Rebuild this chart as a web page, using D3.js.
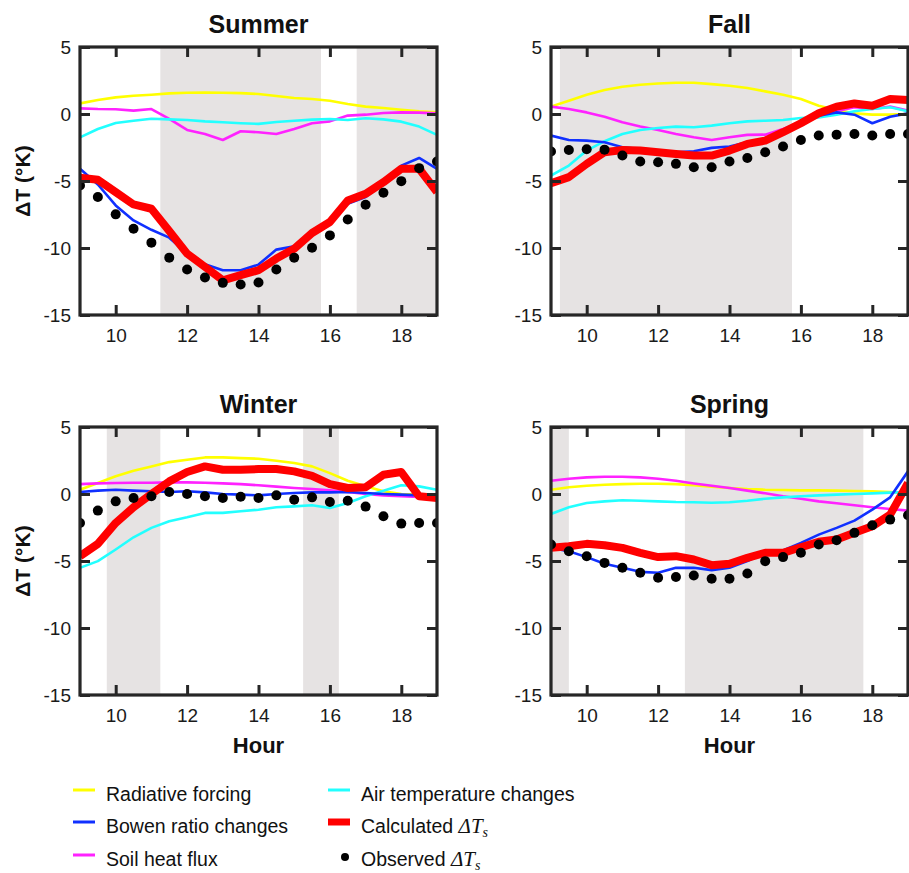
<!DOCTYPE html>
<html>
<head>
<meta charset="utf-8">
<script src="https://cdn.jsdelivr.net/npm/d3@7"></script>
<style>
  html, body { margin: 0; padding: 0; background: #fff; }
  svg { display: block; font-family: "Liberation Sans", Arial, sans-serif; }
</style>
</head>
<body>
<svg id="chart" width="909" height="873"></svg>
<script>
// Half-hourly time steps (hour of day)
const hours = [9, 9.5, 10, 10.5, 11, 11.5, 12, 12.5, 13, 13.5, 14, 14.5, 15, 15.5, 16, 16.5, 17, 17.5, 18, 18.5, 19];
const xTicks = [10, 12, 14, 16, 18];
const yTicks = [-15, -10, -5, 0, 5];

// Summer
const summerRad   = [0.79, 1.04, 1.24, 1.36, 1.44, 1.54, 1.59, 1.61, 1.59, 1.56, 1.49, 1.34, 1.19, 1.12, 0.99, 0.74, 0.55, 0.45, 0.32, 0.20, 0.12];
const summerBowen = [-4.09, -5.26, -6.82, -7.94, -8.64, -9.23, -10.42, -11.22, -11.66, -11.66, -11.24, -10.12, -9.88, -8.81, -7.94, -6.70, -6.20, -5.21, -3.85, -3.28, -4.09];
const summerSoil  = [0.42, 0.37, 0.35, 0.25, 0.37, -0.37, -1.19, -1.49, -1.94, -1.29, -1.36, -1.49, -1.12, -0.69, -0.55, -0.12, -0.05, 0.07, 0.12, 0.10, 0.05];
const summerAir   = [-1.74, -1.12, -0.67, -0.50, -0.35, -0.40, -0.45, -0.55, -0.62, -0.69, -0.74, -0.60, -0.50, -0.42, -0.37, -0.45, -0.32, -0.40, -0.57, -0.94, -1.56];
const summerCalc  = [-4.76, -4.91, -5.83, -6.75, -7.07, -8.73, -10.42, -11.41, -12.41, -12.03, -11.66, -10.79, -10.05, -8.88, -8.06, -6.45, -5.96, -5.09, -4.09, -4.09, -5.83];
const summerObs   = [-5.33, -6.20, -7.49, -8.56, -9.60, -10.72, -11.61, -12.20, -12.60, -12.73, -12.58, -11.61, -10.72, -9.98, -9.06, -7.87, -6.77, -5.88, -5.01, -4.04, -3.55];
const summerShade = [[11.25, 15.75], [16.75, 19]];

// Fall
const fallRad   = [0.55, 0.99, 1.44, 1.79, 2.03, 2.18, 2.28, 2.33, 2.33, 2.23, 2.11, 1.94, 1.69, 1.44, 1.12, 0.62, 0.30, 0.05, -0.05, -0.05, 0.00];
const fallBowen = [-1.61, -1.94, -1.99, -2.11, -2.48, -2.61, -2.73, -2.85, -2.78, -2.53, -2.43, -2.11, -1.86, -1.24, -0.62, -0.12, 0.12, -0.05, -0.69, -0.20, 0.05];
const fallSoil  = [0.55, 0.37, 0.12, -0.20, -0.62, -0.94, -1.19, -1.49, -1.74, -1.94, -1.74, -1.56, -1.54, -1.12, -0.62, -0.20, 0.20, 0.50, 0.37, 0.55, 0.25];
const fallAir   = [-4.59, -3.85, -2.73, -2.03, -1.49, -1.19, -1.04, -0.94, -0.99, -0.87, -0.69, -0.55, -0.50, -0.45, -0.30, -0.25, -0.05, 0.20, 0.37, 0.50, 0.20];
const fallCalc  = [-5.16, -4.71, -3.72, -2.85, -2.68, -2.73, -2.85, -2.98, -3.10, -3.10, -2.73, -2.23, -1.99, -1.36, -0.69, 0.05, 0.55, 0.79, 0.62, 1.12, 1.04];
const fallObs   = [-2.80, -2.68, -2.63, -2.66, -3.10, -3.55, -3.60, -3.72, -3.97, -3.97, -3.55, -3.28, -2.85, -2.43, -1.94, -1.61, -1.54, -1.49, -1.61, -1.49, -1.49];
const fallShade = [[9.25, 15.75]];

// Winter
const winterRad   = [0.32, 0.82, 1.32, 1.74, 2.06, 2.38, 2.56, 2.73, 2.73, 2.68, 2.63, 2.48, 2.31, 2.06, 1.56, 0.99, 0.57, 0.20, 0.00, -0.05, -0.05];
const winterBowen = [0.15, 0.25, 0.32, 0.25, 0.20, 0.15, 0.20, 0.12, 0.00, -0.05, -0.10, 0.00, 0.07, 0.12, 0.12, 0.15, 0.07, 0.00, -0.05, -0.10, -0.17];
const winterSoil  = [0.74, 0.79, 0.82, 0.84, 0.84, 0.87, 0.87, 0.84, 0.79, 0.74, 0.65, 0.55, 0.45, 0.37, 0.27, 0.15, 0.00, -0.10, -0.17, -0.22, -0.25];
const winterAir   = [-5.51, -5.01, -4.14, -3.23, -2.53, -2.03, -1.74, -1.41, -1.41, -1.29, -1.17, -0.99, -0.92, -0.84, -1.04, -0.67, -0.17, 0.25, 0.65, 0.57, 0.32];
const winterCalc  = [-4.64, -3.72, -2.16, -0.99, 0.00, 0.94, 1.64, 2.06, 1.81, 1.81, 1.86, 1.86, 1.69, 1.36, 0.74, 0.45, 0.50, 1.44, 1.64, -0.17, -0.30];
const winterObs   = [-2.16, -1.24, -0.55, -0.30, -0.17, 0.15, 0.00, -0.17, -0.30, -0.20, -0.30, -0.10, -0.42, -0.25, -0.60, -0.50, -0.94, -1.66, -2.21, -2.16, -2.16];
const winterShade = [[9.75, 11.25], [15.25, 16.25]];

// Spring
const springRad   = [0.32, 0.50, 0.62, 0.69, 0.74, 0.77, 0.77, 0.74, 0.65, 0.55, 0.45, 0.37, 0.32, 0.30, 0.27, 0.27, 0.25, 0.22, 0.20, 0.15, 0.07];
const springBowen = [-4.02, -4.27, -4.71, -5.21, -5.51, -5.81, -5.88, -5.51, -5.51, -5.68, -5.51, -5.01, -4.39, -4.22, -3.65, -3.03, -2.53, -1.99, -1.17, -0.25, 1.69];
const springSoil  = [0.99, 1.14, 1.24, 1.29, 1.29, 1.24, 1.14, 0.99, 0.79, 0.62, 0.45, 0.25, 0.05, -0.17, -0.35, -0.55, -0.69, -0.84, -0.99, -1.12, -1.24];
const springAir   = [-1.49, -0.99, -0.67, -0.55, -0.47, -0.50, -0.55, -0.60, -0.62, -0.65, -0.62, -0.50, -0.35, -0.25, -0.17, -0.10, -0.05, 0.00, 0.05, 0.10, 0.15];
const springCalc  = [-4.02, -3.90, -3.72, -3.82, -4.02, -4.39, -4.71, -4.64, -4.89, -5.31, -5.21, -4.76, -4.39, -4.39, -3.97, -3.57, -3.40, -2.90, -2.41, -1.54, 0.82];
const springObs   = [-3.77, -4.27, -4.64, -5.14, -5.51, -5.88, -6.25, -6.20, -6.08, -6.33, -6.33, -5.93, -5.01, -4.71, -4.39, -3.77, -3.45, -2.90, -2.33, -1.91, -1.59];
const springShade = [[9, 9.5], [12.75, 17.75]];

const colors = {
  rad: "#ffff00",
  bowen: "#1030ff",
  soil: "#ff22ff",
  air: "#22ffff",
  calc: "#ff0000",
  obs: "#000000",
  shade: "#e6e3e3",
  frame: "#262626"
};

const panels = [
  { title: "Summer", left: 80,  top: 47,  rad: summerRad, bowen: summerBowen, soil: summerSoil, air: summerAir, calc: summerCalc, obs: summerObs, shade: summerShade, yLabel: true,  xLabel: false },
  { title: "Fall",   left: 551, top: 47,  rad: fallRad,   bowen: fallBowen,   soil: fallSoil,   air: fallAir,   calc: fallCalc,   obs: fallObs,   shade: fallShade,   yLabel: false, xLabel: false },
  { title: "Winter", left: 80,  top: 427, rad: winterRad, bowen: winterBowen, soil: winterSoil, air: winterAir, calc: winterCalc, obs: winterObs, shade: winterShade, yLabel: true,  xLabel: true },
  { title: "Spring", left: 551, top: 427, rad: springRad, bowen: springBowen, soil: springSoil, air: springAir, calc: springCalc, obs: springObs, shade: springShade, yLabel: false, xLabel: true }
];

const W = 357, H = 268;
const svg = d3.select("#chart");
const defs = svg.append("defs");
// plain hyphen-minus for negative tick labels
const fmt = d => String(d);

panels.forEach((p, i) => {
  const x = d3.scaleLinear().domain([9, 19]).range([p.left, p.left + W]);
  const y = d3.scaleLinear().domain([-15, 5]).range([p.top + H, p.top]);
  const g = svg.append("g");

  const clipId = "clip" + i;
  defs.append("clipPath").attr("id", clipId)
    .append("rect").attr("x", p.left).attr("y", p.top).attr("width", W).attr("height", H);

  const plot = g.append("g").attr("clip-path", `url(#${clipId})`);

  // shaded hour ranges
  plot.selectAll("rect.shade").data(p.shade).join("rect")
    .attr("class", "shade")
    .attr("x", d => x(d[0]))
    .attr("y", p.top)
    .attr("width", d => x(d[1]) - x(d[0]))
    .attr("height", H)
    .attr("fill", colors.shade);

  const line = d3.line().x((d, j) => x(hours[j])).y(d => y(d));

  const series = [
    { key: "rad", w: 2.6 },
    { key: "soil", w: 2.6 },
    { key: "air", w: 2.6 },
    { key: "bowen", w: 2.6 },
    { key: "calc", w: 8 }
  ];
  series.forEach(s => {
    plot.append("path")
      .datum(p[s.key])
      .attr("d", line)
      .attr("fill", "none")
      .attr("stroke", colors[s.key])
      .attr("stroke-width", s.w)
      .attr("stroke-linejoin", "round");
  });

  plot.selectAll("circle.obs").data(p.obs).join("circle")
    .attr("class", "obs")
    .attr("cx", (d, j) => x(hours[j]))
    .attr("cy", d => y(d))
    .attr("r", 5)
    .attr("fill", colors.obs);

  // axes with inward ticks on all four sides
  const axB = g.append("g").attr("transform", `translate(0,${p.top + H})`)
    .call(d3.axisBottom(x).tickValues(xTicks).tickSize(-10).tickPadding(14).tickFormat(fmt));
  const axT = g.append("g").attr("transform", `translate(0,${p.top})`)
    .call(d3.axisTop(x).tickValues(xTicks).tickSize(-10).tickFormat(""));
  const axL = g.append("g").attr("transform", `translate(${p.left},0)`)
    .call(d3.axisLeft(y).tickValues(yTicks).tickSize(-10).tickPadding(9).tickFormat(fmt));
  const axR = g.append("g").attr("transform", `translate(${p.left + W},0)`)
    .call(d3.axisRight(y).tickValues(yTicks).tickSize(-10).tickFormat(""));

  [axB, axT, axL, axR].forEach(a => {
    a.select(".domain").remove();
    a.selectAll(".tick line").attr("stroke", colors.frame).attr("stroke-width", 3);
    a.selectAll(".tick text")
      .attr("fill", "#1a1a1a")
      .style("font-family", "'Liberation Sans', Arial, sans-serif")
      .style("font-size", "19px");
  });

  g.append("rect")
    .attr("x", p.left).attr("y", p.top)
    .attr("width", W).attr("height", H)
    .attr("fill", "none")
    .attr("stroke", colors.frame)
    .attr("stroke-width", 3.2);

  g.append("text")
    .attr("x", p.left + W / 2)
    .attr("y", p.top - 14)
    .attr("text-anchor", "middle")
    .style("font-size", "25px")
    .style("font-weight", "bold")
    .attr("fill", "#111")
    .text(p.title);

  if (p.yLabel) {
    g.append("text")
      .attr("transform", `translate(30,${p.top + H / 2}) rotate(-90)`)
      .attr("text-anchor", "middle")
      .style("font-size", "21px")
      .style("font-weight", "bold")
      .attr("fill", "#111")
      .text("ΔT (°K)");
  }
  if (p.xLabel) {
    g.append("text")
      .attr("x", p.left + W / 2)
      .attr("y", p.top + H + 58)
      .attr("text-anchor", "middle")
      .style("font-size", "22px")
      .style("font-weight", "bold")
      .attr("fill", "#111")
      .text("Hour");
  }
});

// Legend
const legendItems = [
  { key: "rad",   label: "Radiative forcing",       col: 0, row: 0, type: "line", w: 3 },
  { key: "bowen", label: "Bowen ratio changes",     col: 0, row: 1, type: "line", w: 3 },
  { key: "soil",  label: "Soil heat flux",          col: 0, row: 2, type: "line", w: 3 },
  { key: "air",   label: "Air temperature changes", col: 1, row: 0, type: "line", w: 3 },
  { key: "calc",  label: "Calculated ",             col: 1, row: 1, type: "line", w: 7, math: true },
  { key: "obs",   label: "Observed ",               col: 1, row: 2, type: "dot", math: true }
];
const legCols = [73, 328];
const legRowY = [790, 822, 855];
const leg = svg.append("g");
legendItems.forEach(it => {
  const x0 = legCols[it.col];
  const yy = legRowY[it.row];
  if (it.type === "line") {
    leg.append("line")
      .attr("x1", x0).attr("x2", x0 + 22)
      .attr("y1", yy).attr("y2", yy)
      .attr("stroke", colors[it.key])
      .attr("stroke-width", it.w);
  } else {
    leg.append("circle").attr("cx", x0 + 17).attr("cy", yy + 2).attr("r", 4).attr("fill", colors.obs);
  }
  const t = leg.append("text")
    .attr("x", x0 + 33)
    .attr("y", yy + 11)
    .style("font-size", "19.5px")
    .attr("fill", "#111");
  t.append("tspan").text(it.label);
  if (it.math) {
    t.append("tspan")
      .style("font-family", "'Liberation Serif', 'DejaVu Serif', serif")
      .style("font-style", "italic")
      .style("font-size", "21px")
      .text("ΔT");
    t.append("tspan")
      .attr("dy", 4)
      .style("font-family", "'Liberation Serif', 'DejaVu Serif', serif")
      .style("font-style", "italic")
      .style("font-size", "14px")
      .text("s");
  }
});
</script>
</body>
</html>
